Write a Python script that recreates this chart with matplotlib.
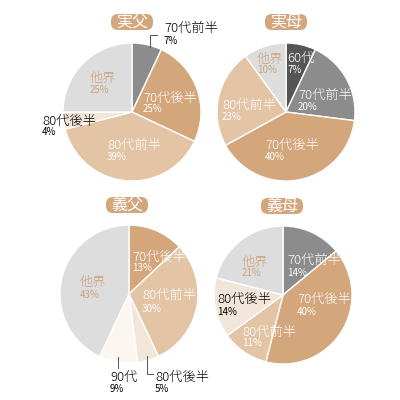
import matplotlib
matplotlib.use("Agg")
import matplotlib.pyplot as plt
from matplotlib.patches import FancyBboxPatch

plt.rcParams['font.family'] = ['Noto Sans CJK JP', 'DejaVu Sans']

# data
titles = ['実父', '実母', '義父', '義母']
labels_1 = ['70代前半', '70代後半', '80代前半', '80代後半', '他界']
values_1 = [7, 25, 39, 4, 25]
labels_2 = ['60代', '70代前半', '70代後半', '80代前半', '他界']
values_2 = [7, 20, 40, 23, 10]
labels_3 = ['70代後半', '80代前半', '80代後半', '90代', '他界']
values_3 = [13, 30, 5, 9, 43]
labels_4 = ['70代前半', '70代後半', '80代前半', '80代後半', '他界']
values_4 = [14, 40, 11, 14, 21]

colors = {
    '60代': '#555555',
    '70代前半': '#8c8c8c',
    '70代後半': '#d4a67c',
    '80代前半': '#e3c4a5',
    '80代後半': '#f2e5d9',
    '90代': '#fbf6ef',
    '他界': '#dddddd',
}
title_color = '#d4a67c'
tan_text = '#c9a27c'

# layout (pixel coords, y downward)
centers = [(132, 112), (286, 112), (129, 294), (283, 295)]
radius = 69
title_pos = [(132, 22), (286, 22), (127, 205), (282, 206)]

# label positions: (x, y_label, y_pct, color)
label_pos = [
    {'70代前半': (164, 28, 41, 'black'), '70代後半': (143, 98, 109, 'white'),
     '80代前半': (107, 145, 157, 'white'), '80代後半': (42, 121, 132, 'black'),
     '他界': (90, 78, 90, tan_text)},
    {'60代': (287, 58, 70, 'white'), '70代前半': (298, 95, 107, 'white'),
     '70代後半': (265, 145, 157, 'white'), '80代前半': (222, 105, 117, 'white'),
     '他界': (257, 59, 70, tan_text)},
    {'70代後半': (132, 257, 268, 'white'), '80代前半': (142, 295, 309, 'white'),
     '80代後半': (155, 377, 389, 'black'), '90代': (110, 377, 389, 'black'),
     '他界': (80, 282, 295, tan_text)},
    {'70代前半': (287, 260, 273, 'white'), '70代後半': (297, 299, 312, 'white'),
     '80代前半': (242, 332, 343, 'white'), '80代後半': (217, 299, 312, 'black'),
     '他界': (242, 262, 273, tan_text)},
]

all_labels = [labels_1, labels_2, labels_3, labels_4]
all_values = [values_1, values_2, values_3, values_4]


def Y(y):
    return 400 - y


fig = plt.figure(figsize=(4, 4), dpi=100)
ax = fig.add_axes([0, 0, 1, 1])

for i in range(4):
    cx, cy = centers[i]
    ax.pie(all_values[i], colors=[colors[l] for l in all_labels[i]],
           startangle=90, counterclock=False, center=(cx, Y(cy)), radius=radius,
           wedgeprops=dict(edgecolor='white', linewidth=1))
    tx, ty = title_pos[i]
    ax.add_patch(FancyBboxPatch((tx - 18, Y(ty) - 5), 36, 10,
                                boxstyle='round,pad=3,rounding_size=7',
                                fc=title_color, ec='none'))
    ax.text(tx, Y(ty), titles[i], color='white', fontsize=11.5,
            ha='center', va='center')
    for lab, val in zip(all_labels[i], all_values[i]):
        x, yl, yp, c = label_pos[i][lab]
        ax.text(x, Y(yl), lab, color=c, fontsize=9.5, fontweight='light',
                ha='left', va='center')
        ax.text(x, Y(yp), f'{val}%', color=c, fontsize=7,
                ha='left', va='center')

# leader lines
ax.plot([157, 150, 150], [Y(35), Y(35), Y(47)], color='#555555', lw=0.7)
ax.plot([118, 118], [Y(357), Y(368)], color='#555555', lw=0.7)
ax.plot([147, 147, 153], [Y(356), Y(374), Y(374)], color='#555555', lw=0.7)

ax.set_xlim(0, 400)
ax.set_ylim(0, 400)
ax.set_aspect('equal')
ax.axis('off')
fig.savefig('out.png', dpi=100, facecolor='white')
